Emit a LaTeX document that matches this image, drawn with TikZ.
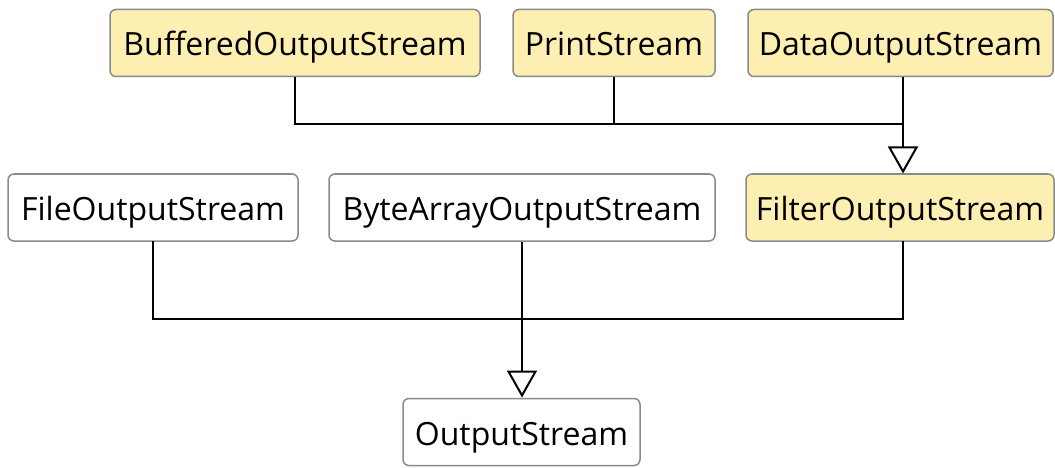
\documentclass[tikz,border=0pt]{standalone}
\usepackage{fontspec}
\setmainfont{Open Sans}
\usetikzlibrary{arrows.meta}
\definecolor{boxfill}{HTML}{FDEFB2}
\definecolor{boxline}{HTML}{8A8A8A}
\begin{document}
\begin{tikzpicture}[x=1pt,y=-1pt,
  cls/.style={draw=boxline,line width=1.5pt,rounded corners=6pt,fill=white,inner sep=0pt,minimum height=67pt,text height=30pt,text depth=4pt,font=\fontsize{32}{36}\selectfont,text=black},
  hl/.style={cls,fill=boxfill},
  conn/.style={line width=2pt,black},
  gen/.style={conn,-{Triangle[open,length=27pt,width=30pt,line width=2pt]}}]
\useasboundingbox (0,0) rectangle (1055,468);
\node[hl,minimum width=370pt] (bos) at (295,43) {BufferedOutputStream};
\node[hl,minimum width=202pt] (ps) at (614,43) {PrintStream};
\node[hl,minimum width=305pt] (dos) at (900.5,43) {DataOutputStream};
\node[cls,minimum width=290pt] (fos) at (153,207.5) {FileOutputStream};
\node[cls,minimum width=386pt] (baos) at (522,207.5) {ByteArrayOutputStream};
\node[hl,minimum width=308pt] (filt) at (900,207.5) {FilterOutputStream};
\node[cls,minimum width=237pt] (os) at (521.5,432) {OutputStream};
\coordinate (j1) at (903,124);
\coordinate (j2) at (522,319);
\draw[conn] (bos.south) |- (j1);
\draw[conn] (ps.south) -- (ps.south |- j1);
\draw[gen] (903,77) -- (903,173.5);
\draw[conn] (153,241) |- (903,319) -- (903,241);
\draw[gen] (baos.south) -- (522,397.5);
\end{tikzpicture}
\end{document}
